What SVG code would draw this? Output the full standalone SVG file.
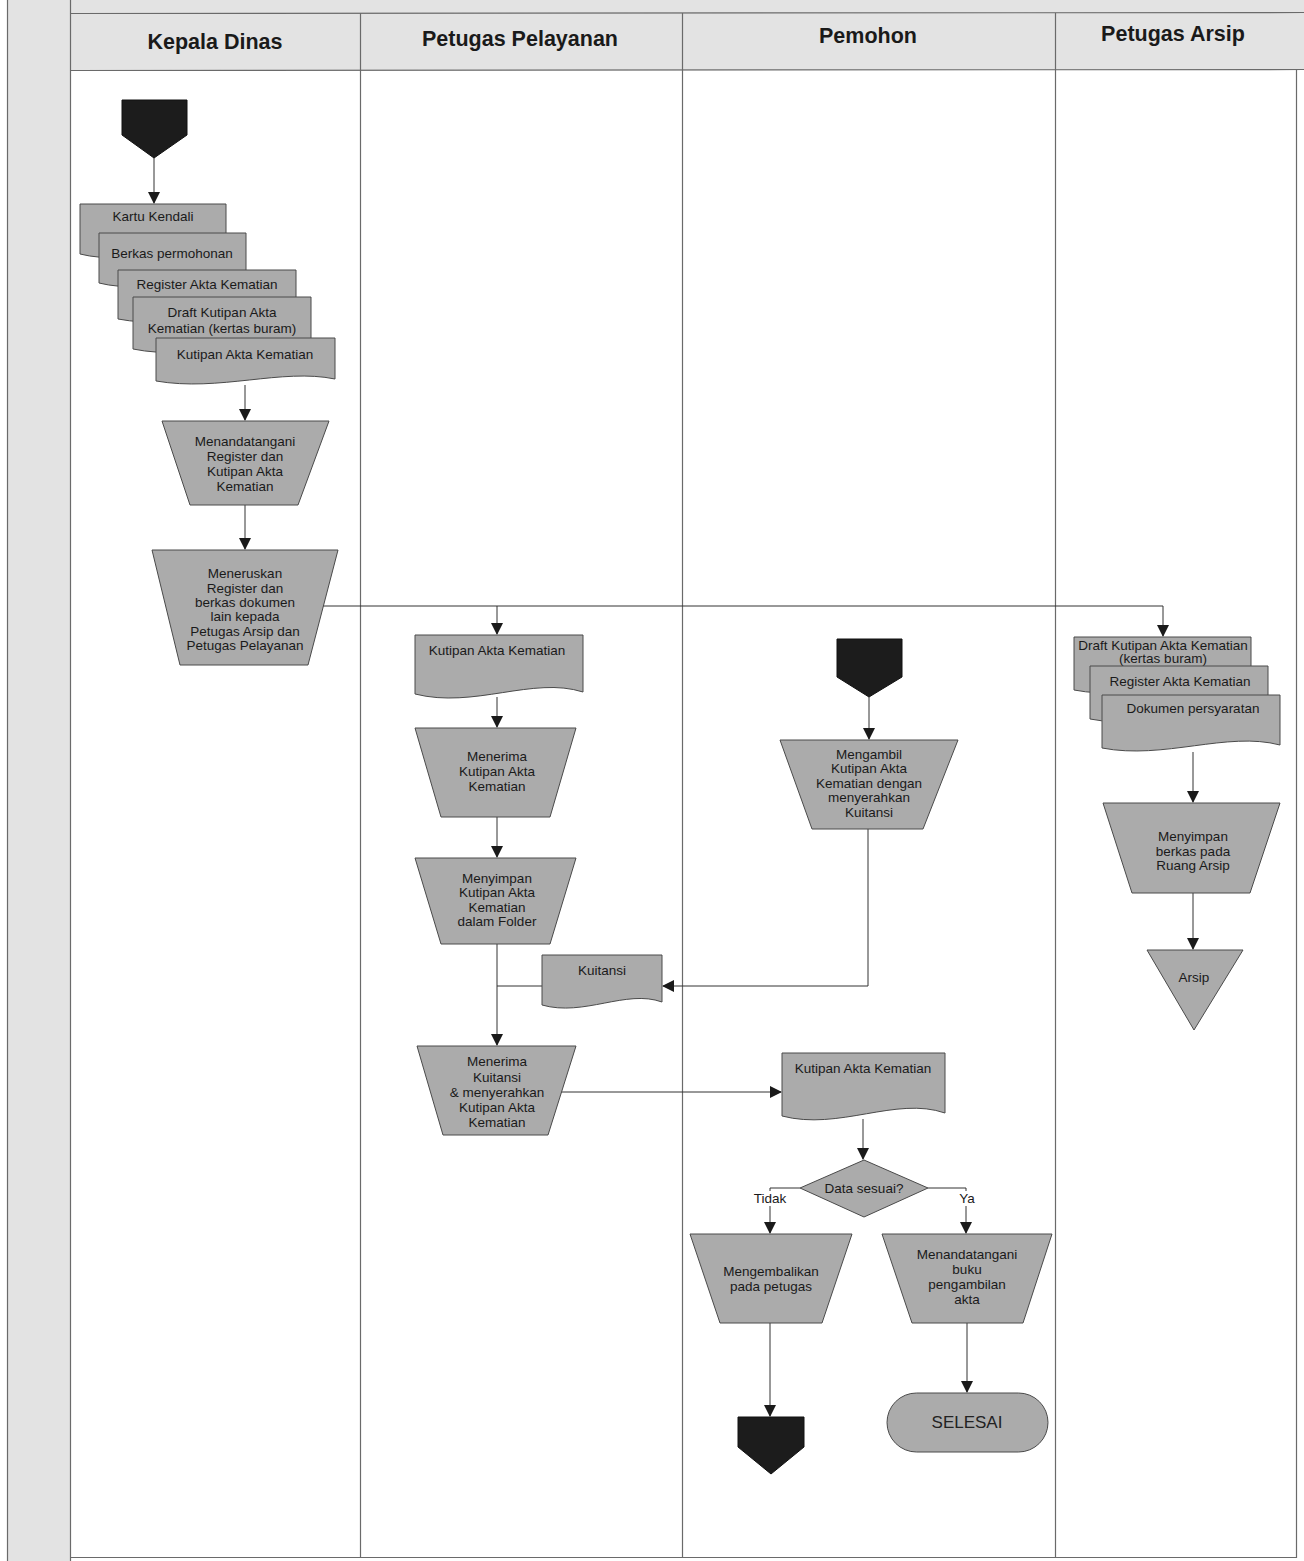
<svg xmlns="http://www.w3.org/2000/svg" width="1304" height="1561" viewBox="0 0 1304 1561">
<defs>
<marker id="ah" markerUnits="userSpaceOnUse" markerWidth="12" markerHeight="12" refX="11" refY="6" orient="auto">
<path d="M0,0 L12,6 L0,12 z" fill="#1a1a1a"/>
</marker>
</defs>
<style>
.frame{stroke:#6a6a6a;stroke-width:1.2;fill:none}
.hdr{font-family:"Liberation Sans",Arial,sans-serif;font-weight:bold;font-size:21.5px;fill:#1a1a1a;text-anchor:middle}
.shape{fill:#ababab;stroke:#4a4a4a;stroke-width:1}
.dark{fill:#1c1c1c;stroke:#111;stroke-width:1}
.t{font-family:"Liberation Sans",Arial,sans-serif;font-size:13.5px;fill:#1a1a1a;text-anchor:middle}
.lbl{font-family:"Liberation Sans",Arial,sans-serif;font-size:13.5px;fill:#1a1a1a;text-anchor:middle}
.lblbg{fill:#ffffff;stroke:none}
.big{font-family:"Liberation Sans",Arial,sans-serif;font-size:17px;fill:#222;text-anchor:middle}
.c{stroke:#333;stroke-width:1;fill:none}
.ca{stroke:#333;stroke-width:1;fill:none;marker-end:url(#ah)}
</style>
<rect x="0" y="0" width="1304" height="1561" fill="#ffffff"/>
<g id="background">
<rect x="7" y="0" width="1297" height="70" fill="#e3e3e3"/>
<rect x="7" y="0" width="63" height="1561" fill="#e3e3e3"/>
<line class="frame" x1="7.5" y1="0" x2="7.5" y2="1561"/>
<line class="frame" x1="70.5" y1="0" x2="70.5" y2="1561"/>
<line class="frame" x1="70" y1="13.5" x2="1304" y2="12.5"/>
<line class="frame" x1="70" y1="70.5" x2="1304" y2="69.5"/>
<line class="frame" x1="360.5" y1="13" x2="360.5" y2="1558"/>
<line class="frame" x1="682.5" y1="13" x2="682.5" y2="1558"/>
<line class="frame" x1="1055.5" y1="13" x2="1055.5" y2="1558"/>
<line class="frame" x1="1296.5" y1="70" x2="1296.5" y2="1558"/>
<line class="frame" x1="70" y1="1557.5" x2="1297" y2="1557.5"/>
</g>
<g id="lane-headers">
<text class="hdr" x="215" y="49">Kepala Dinas</text>
<text class="hdr" x="520" y="46">Petugas Pelayanan</text>
<text class="hdr" x="868" y="43">Pemohon</text>
<text class="hdr" x="1173" y="41">Petugas Arsip</text>
</g>
<g id="connectors">
<path class="ca" d="M154,158 V203"/>
<path class="ca" d="M245,385 V420"/>
<path class="ca" d="M245,505 V549"/>
<path class="c" d="M323,606 H1163"/>
<path class="ca" d="M1163,606 V636"/>
<path class="ca" d="M497,606 V634"/>
<path class="ca" d="M497,697 V727"/>
<path class="ca" d="M497,817 V857"/>
<path class="ca" d="M497,944 V1045"/>
<path class="c" d="M497,986 H542"/>
<path class="ca" d="M869,697 V739"/>
<path class="c" d="M868,829 V986"/>
<path class="ca" d="M868,986 H663"/>
<path class="ca" d="M561,1092 H781"/>
<path class="ca" d="M863,1119 V1159"/>
<path class="ca" d="M800,1188 H770 V1233"/>
<path class="ca" d="M928,1188 H966 V1233"/>
<path class="ca" d="M770,1323 V1416"/>
<path class="ca" d="M967,1323 V1392"/>
<path class="ca" d="M1193,752 V802"/>
<path class="ca" d="M1193,893 V949"/>
<rect class="lblbg" x="752" y="1191" width="37" height="15"/>
<text class="lbl" x="770" y="1203">Tidak</text>
<rect class="lblbg" x="957" y="1191" width="20" height="15"/>
<text class="lbl" x="967" y="1203">Ya</text>
</g>
<g id="start-kepala">
<path class="dark" d="M122,100 H187 V135 L154,158 L122,135 Z"/>
</g>
<g id="doc-kartu-kendali">
<path class="shape" d="M80,204 H226 V252 C182,239 131,267 80,254 Z"/>
<text class="t" x="153" y="221">Kartu Kendali</text>
</g>
<g id="doc-berkas-permohonan">
<path class="shape" d="M99,233 H246 V282 C202,268 150,296 99,283 Z"/>
<text class="t" x="172" y="258">Berkas permohonan</text>
</g>
<g id="doc-register-kd">
<path class="shape" d="M118,270 H296 V317 C243,304 180,331 118,319 Z"/>
<text class="t" x="207" y="289">Register Akta Kematian</text>
</g>
<g id="doc-draft-kd">
<path class="shape" d="M133,297 H311 V347 C258,333 195,362 133,349 Z"/>
<text class="t" x="222" y="317">Draft Kutipan Akta</text>
<text class="t" x="222" y="333">Kematian (kertas buram)</text>
</g>
<g id="doc-kutipan-kd">
<path class="shape" d="M156,338 H335 V379 C282,368 219,392 156,381 Z"/>
<text class="t" x="245" y="359">Kutipan Akta Kematian</text>
</g>
<g id="menandatangani-register">
<path class="shape" d="M162,421 H329 L298,505 H190 Z"/>
<text class="t" x="245" y="446">Menandatangani</text>
<text class="t" x="245" y="461">Register dan</text>
<text class="t" x="245" y="476">Kutipan Akta</text>
<text class="t" x="245" y="491">Kematian</text>
</g>
<g id="meneruskan">
<path class="shape" d="M152,550 H338 L308,665 H180 Z"/>
<text class="t" x="245" y="578">Meneruskan</text>
<text class="t" x="245" y="593">Register dan</text>
<text class="t" x="245" y="607">berkas dokumen</text>
<text class="t" x="245" y="621">lain kepada</text>
<text class="t" x="245" y="636">Petugas Arsip dan</text>
<text class="t" x="245" y="650">Petugas Pelayanan</text>
</g>
<g id="doc-kutipan-pp">
<path class="shape" d="M415,635 H583 V692 C533,676 474,709 415,694 Z"/>
<text class="t" x="497" y="655">Kutipan Akta Kematian</text>
</g>
<g id="menerima-kutipan">
<path class="shape" d="M415,728 H576 L550,817 H441 Z"/>
<text class="t" x="497" y="761">Menerima</text>
<text class="t" x="497" y="776">Kutipan Akta</text>
<text class="t" x="497" y="791">Kematian</text>
</g>
<g id="menyimpan-kutipan">
<path class="shape" d="M415,858 H576 L550,944 H441 Z"/>
<text class="t" x="497" y="883">Menyimpan</text>
<text class="t" x="497" y="897">Kutipan Akta</text>
<text class="t" x="497" y="912">Kematian</text>
<text class="t" x="497" y="926">dalam Folder</text>
</g>
<g id="doc-kuitansi">
<path class="shape" d="M542,955 H662 V1002 C626,989 584,1017 542,1005 Z"/>
<text class="t" x="602" y="975">Kuitansi</text>
</g>
<g id="menerima-kuitansi">
<path class="shape" d="M417,1046 H576 L548,1135 H443 Z"/>
<text class="t" x="497" y="1066">Menerima</text>
<text class="t" x="497" y="1082">Kuitansi</text>
<text class="t" x="497" y="1097">&amp; menyerahkan</text>
<text class="t" x="497" y="1112">Kutipan Akta</text>
<text class="t" x="497" y="1127">Kematian</text>
</g>
<g id="start-pemohon">
<path class="dark" d="M837,639 H902 V677 L869,697 L837,677 Z"/>
</g>
<g id="mengambil-kutipan">
<path class="shape" d="M780,740 H958 L923,829 H812 Z"/>
<text class="t" x="869" y="759">Mengambil</text>
<text class="t" x="869" y="773">Kutipan Akta</text>
<text class="t" x="869" y="788">Kematian dengan</text>
<text class="t" x="869" y="802">menyerahkan</text>
<text class="t" x="869" y="817">Kuitansi</text>
</g>
<g id="doc-kutipan-pemohon">
<path class="shape" d="M782,1053 H945 V1113 C896,1096 839,1131 782,1116 Z"/>
<text class="t" x="863" y="1073">Kutipan Akta Kematian</text>
</g>
<g id="data-sesuai">
<path class="shape" d="M864,1160 L928,1188 L864,1217 L800,1188 Z"/>
<text class="t" x="864" y="1193">Data sesuai?</text>
</g>
<g id="mengembalikan">
<path class="shape" d="M690,1234 H852 L822,1323 H720 Z"/>
<text class="t" x="771" y="1276">Mengembalikan</text>
<text class="t" x="771" y="1291">pada petugas</text>
</g>
<g id="menandatangani-buku">
<path class="shape" d="M882,1234 H1052 L1023,1323 H912 Z"/>
<text class="t" x="967" y="1259">Menandatangani</text>
<text class="t" x="967" y="1274">buku</text>
<text class="t" x="967" y="1289">pengambilan</text>
<text class="t" x="967" y="1304">akta</text>
</g>
<g id="offpage-end">
<path class="dark" d="M738,1417 H804 V1447 L771,1474 L738,1447 Z"/>
</g>
<g id="selesai">
<rect class="shape" x="887" y="1393" width="161" height="59" rx="29.5"/>
<text class="big" x="967" y="1428">SELESAI</text>
</g>
<g id="doc-draft-arsip">
<path class="shape" d="M1074,637 H1251 V687 C1198,673 1136,702 1074,690 Z"/>
<text class="t" x="1163" y="650">Draft Kutipan Akta Kematian</text>
<text class="t" x="1163" y="663">(kertas buram)</text>
</g>
<g id="doc-register-arsip">
<path class="shape" d="M1090,666 H1268 V716 C1215,702 1152,731 1090,719 Z"/>
<text class="t" x="1180" y="686">Register Akta Kematian</text>
</g>
<g id="doc-dokumen-persyaratan">
<path class="shape" d="M1102,695 H1280 V745 C1227,731 1164,760 1102,748 Z"/>
<text class="t" x="1193" y="713">Dokumen persyaratan</text>
</g>
<g id="menyimpan-berkas">
<path class="shape" d="M1103,803 H1280 L1250,893 H1132 Z"/>
<text class="t" x="1193" y="841">Menyimpan</text>
<text class="t" x="1193" y="856">berkas pada</text>
<text class="t" x="1193" y="870">Ruang Arsip</text>
</g>
<g id="arsip">
<path class="shape" d="M1147,950 H1243 L1194,1030 Z"/>
<text class="t" x="1194" y="982">Arsip</text>
</g>
</svg>
